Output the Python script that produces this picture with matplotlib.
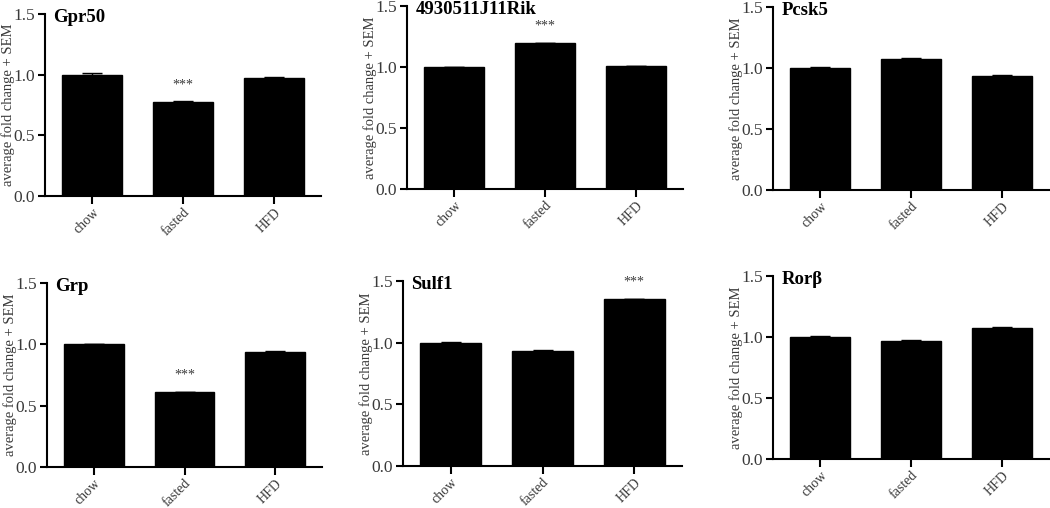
import matplotlib.pyplot as plt

groups = ["chow", "fasted", "HFD"]

genes = ["Gpr50", "4930511J11Rik", "Pcsk5", "Grp", "Sulf1", "Ror\u03b2"]

gpr50 = [1.00, 0.777, 0.970]
rik = [1.00, 1.194, 1.005]
pcsk5 = [1.00, 1.075, 0.938]
grp = [1.00, 0.611, 0.941]
sulf1 = [1.00, 0.934, 1.353]
rorb = [1.003, 0.971, 1.075]

gpr50_sem = [0.012, 0.006, 0.010]
rik_sem = [0.004, 0.005, 0.003]
pcsk5_sem = [0.006, 0.004, 0.004]
grp_sem = [0.004, 0.004, 0.004]
sulf1_sem = [0.003, 0.004, 0.004]
rorb_sem = [0.006, 0.003, 0.004]

# index of the starred group per gene (None = no star)
stars = [1, 1, None, 1, 2, None]

values = [gpr50, rik, pcsk5, grp, sulf1, rorb]
sems = [gpr50_sem, rik_sem, pcsk5_sem, grp_sem, sulf1_sem, rorb_sem]

W, H = 1050, 508
# axes boxes in pixels: left, right, top, bottom
boxes = [
    (45, 321, 14, 196),
    (407, 683, 6, 189),
    (773, 1049, 7, 190),
    (47, 322, 283, 467),
    (403, 682, 281, 466),
    (773, 1049, 276, 459),
]

plt.rcParams['font.family'] = ['Liberation Serif', 'DejaVu Serif']

fig = plt.figure(figsize=(W / 100, H / 100), dpi=100)
grey = "#3a3a3a"

for gene, vals, sem, star, (l, r, t, b) in zip(genes, values, sems, stars, boxes):
    ax = fig.add_axes([l / W, 1 - b / H, (r - l) / W, (b - t) / H])
    x = range(len(groups))
    ax.bar(x, vals, width=0.66, color="black", edgecolor="black")
    ax.errorbar(x, vals, yerr=[[0] * 3, sem], fmt="none", ecolor="black",
                elinewidth=1, capsize=7, capthick=1)
    ax.set_xlim(-0.52, 2.52)
    ax.set_ylim(0, 1.5)
    ax.set_yticks([0, 0.5, 1.0, 1.5])
    ax.set_yticklabels(["0.0", "0.5", "1.0", "1.5"])
    ax.set_xticks(list(x))
    ax.set_xticklabels(groups, rotation=45, ha="right", rotation_mode="anchor")
    for s in ["top", "right"]:
        ax.spines[s].set_visible(False)
    for s in ["left", "bottom"]:
        ax.spines[s].set_linewidth(1.5)
    ax.tick_params(axis="y", direction="out", width=1.5, length=5,
                   labelsize=12.5, labelcolor=grey, pad=2)
    ax.tick_params(axis="x", direction="out", width=1.5, length=6,
                   labelsize=10, labelcolor=grey, pad=1)
    ax.set_ylabel("average fold change + SEM", fontsize=10.5, color=grey)
    ax.yaxis.set_label_coords(-30 / (r - l), 0.5)
    ax.text(0.03, 1.025, gene, transform=ax.transAxes, va="top", ha="left",
            fontsize=13.5, fontweight="bold")
    if star is not None:
        ax.text(star, vals[star] + 0.14, "***", ha="center", va="center",
                fontsize=10, color=grey, clip_on=False)

fig.savefig("out.png", dpi=100)
